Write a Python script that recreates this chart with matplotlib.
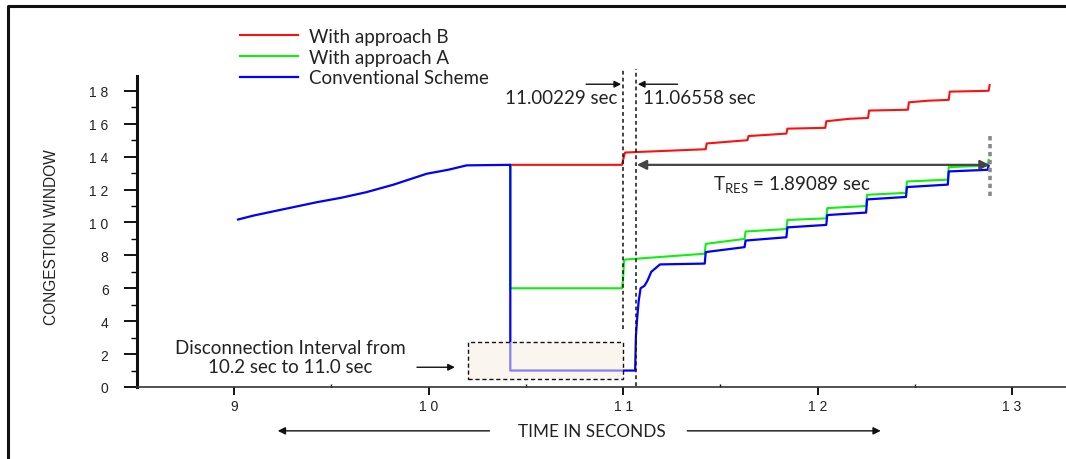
import matplotlib
matplotlib.use('Agg')
import matplotlib.pyplot as plt
from matplotlib.lines import Line2D
from matplotlib.patches import Rectangle
from matplotlib.ticker import MultipleLocator

plt.rcParams['mathtext.fontset'] = 'custom'
plt.rcParams['mathtext.rm'] = 'Lato'
plt.rcParams['mathtext.it'] = 'Lato:italic'

# ---------------- data ----------------
series_names = ['With approach B', 'With approach A', 'Conventional Scheme']

conv_t = [9.02, 9.1, 9.24, 9.425, 9.55, 9.68, 9.82, 9.99, 10.1, 10.196, 10.42, 10.42,
          11.062, 11.066, 11.072, 11.08, 11.09, 11.11, 11.125, 11.145, 11.175, 11.19,
          11.42, 11.425, 11.625, 11.63, 11.84, 11.845, 12.045, 12.05, 12.25, 12.255,
          12.455, 12.46, 12.67, 12.675, 12.875, 12.88]
conv_y = [10.18, 10.42, 10.77, 11.23, 11.5, 11.84, 12.3, 12.96, 13.2, 13.47, 13.5, 1.0,
          1.0, 3.1, 4.1, 5.2, 6.0, 6.15, 6.45, 7.0, 7.3, 7.45,
          7.5, 8.2, 8.5, 8.9, 9.1, 9.7, 9.85, 10.45, 10.6, 11.4,
          11.55, 12.15, 12.3, 13.1, 13.2, 13.45]

a_t = [10.42, 10.42, 10.995, 11.0, 11.005, 11.015, 11.42, 11.425, 11.625, 11.63, 11.84,
       11.845, 12.045, 12.05, 12.25, 12.255, 12.455, 12.46, 12.67, 12.675, 12.875, 12.88]
a_y = [13.5, 6.0, 6.0, 6.6, 7.7, 7.75, 8.1, 8.7, 9.0, 9.45, 9.6,
       10.15, 10.25, 10.87, 11.0, 11.68, 11.8, 12.49, 12.6, 13.36, 13.46, 13.8]

b_t = [10.42, 10.995, 11.0, 11.01, 11.32, 11.425, 11.43, 11.64, 11.645, 11.84, 11.845,
       12.04, 12.045, 12.165, 12.26, 12.265, 12.465, 12.47, 12.57, 12.675, 12.68, 12.88, 12.885]
b_y = [13.5, 13.5, 13.8, 14.25, 14.4, 14.45, 14.8, 15.0, 15.25, 15.4, 15.7,
       15.75, 16.15, 16.3, 16.35, 16.8, 16.85, 17.3, 17.4, 17.45, 17.95, 18.0, 18.35]

x_ticks = [9, 10, 11, 12, 13]
x_tick_labels = ['9', '1 0', '1 1', '1 2', '1 3']
y_ticks = [0, 2, 4, 6, 8, 10, 12, 14, 16, 18]
y_tick_labels = ['0', '2', '4', '6', '8', '1 0', '1 2', '1 4', '1 6', '1 8']

disc_start, disc_end = 10.2, 11.0          # disconnection interval box
t_resume_a = 11.0                          # 11.00229 sec
t_resume_conv = 11.066                     # 11.06558 sec
t_res_end = 12.885                         # end of T_RES arrow (as drawn)
t_res_level = 13.5
label_resume_a = '11.00229 sec'
label_resume_conv = '11.06558 sec'
label_tres = r'T$_{\mathrm{RES}}$ = 1.89089 sec'
label_disc = 'Disconnection Interval from\n10.2 sec to 11.0 sec'

# ---------------- figure ----------------
W, H = 1066, 460
fig = plt.figure(figsize=(W / 100, H / 100), dpi=100)
ax = fig.add_axes([137 / W, 1 - 388 / H, 1 - 137 / W, (388 - 77) / H])

txt_font = ['Lato', 'DejaVu Sans']
tick_font = ['Liberation Sans', 'DejaVu Sans']
txt_color = '#222222'

ax.plot(b_t, b_y, color='#ff1010', lw=1.5, label=series_names[0], zorder=2)
ax.plot(a_t, a_y, color='#10f010', lw=1.5, label=series_names[1], zorder=2)
ax.plot(conv_t, conv_y, color='#0000ff', lw=1.6, label=series_names[2], zorder=2.5)

ax.set_xlim(8.5, 13.278)
ax.set_ylim(0, 18.9)

for s in ['top', 'right']:
    ax.spines[s].set_visible(False)
ax.spines['left'].set_linewidth(2.2)
ax.spines['left'].set_color('#111111')
ax.spines['bottom'].set_linewidth(1.2)
ax.spines['bottom'].set_color('#333333')

ax.set_xticks(x_ticks)
ax.set_xticklabels(x_tick_labels, fontfamily=tick_font, fontsize=10, color='#222222')
ax.set_yticks(y_ticks)
ax.set_yticklabels(y_tick_labels, fontfamily=tick_font, fontsize=10, color='#222222')
ax.xaxis.set_minor_locator(MultipleLocator(0.5))
ax.yaxis.set_minor_locator(MultipleLocator(1))
ax.tick_params(axis='y', which='major', direction='out', length=9.5, width=1.3, pad=11)
ax.tick_params(axis='y', which='minor', direction='out', length=4.5, width=1.0)
ax.tick_params(axis='x', which='major', direction='out', length=6, width=1.3, pad=3)
ax.tick_params(axis='x', which='minor', direction='in', length=2, width=1.0)

# disconnection box
ax.add_patch(Rectangle((disc_start, 0.5), disc_end - disc_start, 2.25,
                       facecolor='#f6ede2', alpha=0.55, edgecolor='none', zorder=3))
ax.add_patch(Rectangle((disc_start, 0.5), disc_end - disc_start, 2.25,
                       facecolor='none', edgecolor='#111111', lw=1.0,
                       linestyle=(0, (3, 2)), zorder=4))
ax.text(9.29, 1.82, label_disc, ha='center', va='center', fontsize=13.5,
        family=txt_font, color=txt_color, linespacing=1.15)
ax.annotate('', xy=(10.135, 1.2), xytext=(9.94, 1.2),
            arrowprops=dict(arrowstyle='-|>', color='#111111', lw=1.0,
                            mutation_scale=10, shrinkA=0, shrinkB=0))

# vertical dashed marker lines
ax.plot([t_resume_a, t_resume_a], [3.5, 19.35], color='#111111', lw=1.1,
        linestyle=(0, (2.5, 2)), clip_on=False, zorder=4)
ax.plot([t_resume_conv, t_resume_conv], [0.05, 19.35], color='#111111', lw=1.1,
        linestyle=(0, (2.5, 2)), clip_on=False, zorder=4)

# small arrows pointing at marker lines
ax.annotate('', xy=(t_resume_a - 0.01, 18.4), xytext=(10.81, 18.4),
            arrowprops=dict(arrowstyle='-|>', color='#111111', lw=1.0,
                            mutation_scale=10, shrinkA=0, shrinkB=0), annotation_clip=False)
ax.annotate('', xy=(t_resume_conv + 0.01, 18.4), xytext=(11.28, 18.4),
            arrowprops=dict(arrowstyle='-|>', color='#111111', lw=1.0,
                            mutation_scale=10, shrinkA=0, shrinkB=0), annotation_clip=False)
ax.text(10.97, 17.6, label_resume_a, ha='right', va='center', fontsize=13.5,
        family=txt_font, color=txt_color)
ax.text(11.103, 17.6, label_resume_conv, ha='left', va='center', fontsize=13.5,
        family=txt_font, color=txt_color)

# T_RES arrow
ax.annotate('', xy=(t_res_end, t_res_level), xytext=(t_resume_conv + 0.005, t_res_level),
            arrowprops=dict(arrowstyle='<|-|>', color='#444444', lw=1.6,
                            mutation_scale=14, shrinkA=0, shrinkB=0), zorder=5)
ax.plot([t_res_end, t_res_end], [11.6, 15.4], color='#888888', lw=2.6,
        linestyle=(0, (1.2, 1.0)), zorder=4)
ax.text(11.871, 12.35, label_tres, ha='center', va='center', fontsize=13.5,
        family=txt_font, color=txt_color)

# axis titles
fig.text(52 / W, 1 - 237 / H, 'CONGESTION WINDOW', rotation=90, ha='center', va='center',
         fontsize=11.2, family=['Liberation Sans Narrow', 'Liberation Sans', 'DejaVu Sans'],
         color=txt_color)
ax.text(10.84, -0.141, 'TIME IN SECONDS', transform=ax.get_xaxis_transform(),
        ha='center', va='center', fontsize=12.3, family=txt_font, color=txt_color)
ax.annotate('', xy=(9.224, -0.141), xytext=(10.313, -0.141),
            xycoords=ax.get_xaxis_transform(), textcoords=ax.get_xaxis_transform(),
            arrowprops=dict(arrowstyle='-|>', color='#111111', lw=1.0,
                            mutation_scale=11, shrinkA=0, shrinkB=0), annotation_clip=False)
ax.annotate('', xy=(12.325, -0.141), xytext=(11.33, -0.141),
            xycoords=ax.get_xaxis_transform(), textcoords=ax.get_xaxis_transform(),
            arrowprops=dict(arrowstyle='-|>', color='#111111', lw=1.0,
                            mutation_scale=11, shrinkA=0, shrinkB=0), annotation_clip=False)

# legend
fig.legend(loc='upper left', bbox_to_anchor=(240 / W, 1 - 29 / H), frameon=False,
           prop={'family': txt_font, 'size': 13.5}, labelcolor=txt_color,
           handlelength=3.1, handletextpad=0.6, labelspacing=0.2, borderpad=0,
           borderaxespad=0)

# outer frame (top and left edges)
fig.add_artist(Line2D([7.5 / W, 7.5 / W, 1.0], [0.0, 1 - 6.5 / H, 1 - 6.5 / H],
                      transform=fig.transFigure, color='#111111', lw=2.2))

fig.savefig('out.png', dpi=100)
